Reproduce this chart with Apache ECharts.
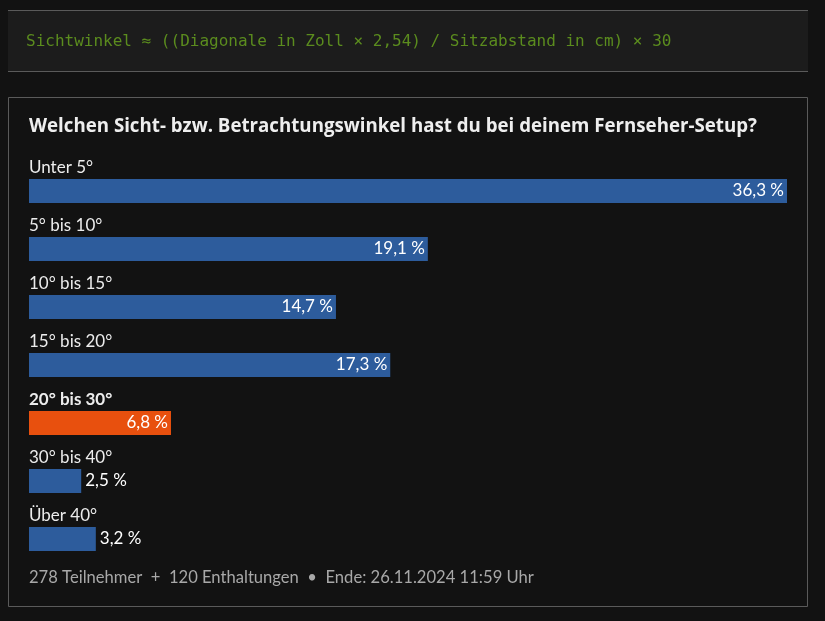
<!DOCTYPE html>
<html>
<head>
<meta charset="utf-8">
<script src="https://cdn.jsdelivr.net/npm/echarts@6/dist/echarts.min.js"></script>
<style>
html,body{margin:0;padding:0;background:#121212;}
#chart{width:825px;height:621px;}
</style>
</head>
<body>
<div id="chart"></div>
<script>
const formulaText = 'Sichtwinkel ≈ ((Diagonale in Zoll × 2,54) / Sitzabstand in cm) × 30';
const pollTitle = 'Welchen Sicht- bzw. Betrachtungswinkel hast du bei deinem Fernseher-Setup?';
const categories = ['Unter 5°', '5° bis 10°', '10° bis 15°', '15° bis 20°', '20° bis 30°', '30° bis 40°', 'Über 40°'];
const percentValues = [36.3, 19.1, 14.7, 17.3, 6.8, 2.5, 3.2];
const highlightedIndex = 4;
const footerText = '278 Teilnehmer  +  120 Enthaltungen  •  Ende: 26.11.2024 11:59 Uhr';

const FONT = 'Lato';
const fmt = v => v.toFixed(1).replace('.', ',') + ' %';

const chart = echarts.init(document.getElementById('chart'), null, {renderer: 'canvas'});

const barData = percentValues.map((v, i) => {
  const inside = v >= 5;
  return {
    value: v,
    itemStyle: {color: i === highlightedIndex ? '#e8500e' : '#2d5c9c'},
    label: {
      show: true,
      position: inside ? 'insideRight' : 'right',
      distance: inside ? 3 : 4,
      formatter: () => fmt(v),
      color: '#ffffff',
      fontFamily: FONT,
      fontSize: 17
    }
  };
});

const nameData = percentValues.map((v, i) => ({
  value: v,
  label: {
    show: true,
    position: [0, -11],
    verticalAlign: 'middle',
    align: 'left',
    formatter: () => categories[i],
    color: '#ececec',
    fontFamily: FONT,
    fontSize: 17,
    fontWeight: i === highlightedIndex ? 'bold' : 'normal'
  }
}));

chart.setOption({
  backgroundColor: '#121212',
  animation: false,
  grid: {left: 29, right: 38, top: 162, bottom: 53, containLabel: false},
  xAxis: {
    type: 'value', min: 0, max: Math.max(...percentValues),
    show: false
  },
  yAxis: {
    type: 'category', data: categories, inverse: true,
    show: false
  },
  graphic: [
    {type: 'rect', shape: {x: 8, y: 10, width: 800, height: 61}, style: {fill: '#1c1c1c'}, z: -10},
    {type: 'line', shape: {x1: 8, y1: 10.5, x2: 808, y2: 10.5}, style: {stroke: '#5a5a5a', lineWidth: 1}},
    {type: 'line', shape: {x1: 8, y1: 71.5, x2: 808, y2: 71.5}, style: {stroke: '#5a5a5a', lineWidth: 1}},
    {type: 'text', left: 26, top: 34, style: {text: formulaText, fill: '#5b8c1e', font: '16px "DejaVu Sans Mono", monospace'}},
    {type: 'rect', shape: {x: 8.5, y: 97.5, width: 799, height: 509}, style: {fill: 'none', stroke: '#5a5a5a', lineWidth: 1}, z: -10},
    {type: 'text', left: 29, top: 117, style: {text: pollTitle, fill: '#eeeeee', font: 'bold 18.7px "Open Sans"'}},
    {type: 'text', left: 29, top: 569, style: {text: footerText, fill: '#a8a8a8', font: '16.6px ' + FONT}}
  ],
  series: [
    {
      type: 'bar', data: nameData, barWidth: 24, barGap: '-100%',
      itemStyle: {color: 'rgba(0,0,0,0)'}, silent: true, z: 1
    },
    {
      type: 'bar', data: barData, barWidth: 24, barGap: '-100%', z: 2
    }
  ]
});
</script>
</body>
</html>
